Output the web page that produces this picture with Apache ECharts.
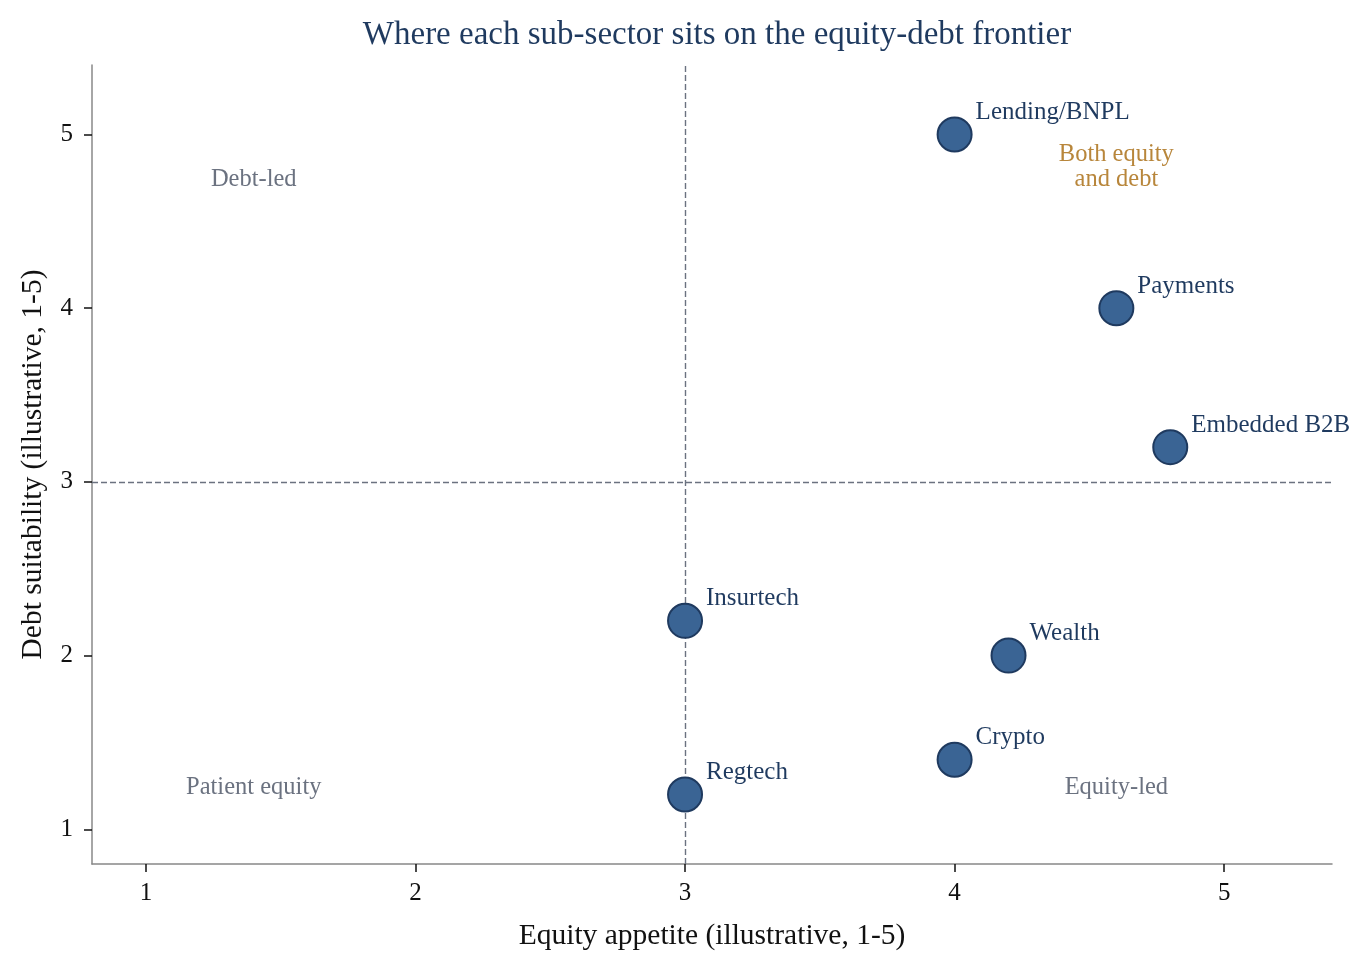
<!DOCTYPE html>
<html>
<head>
<meta charset="utf-8">
<script src="https://cdn.jsdelivr.net/npm/echarts@6/dist/echarts.min.js"></script>
<style>
  html, body { margin: 0; padding: 0; background: #fff; }
  #chartmain { width: 1370px; height: 969px; }
</style>
</head>
<body>
<div id="chartmain"></div>
<script>
// sub-sectors and their scores
var sectorNames = ['Lending/BNPL', 'Payments', 'Embedded B2B', 'Insurtech', 'Wealth', 'Crypto', 'Regtech'];
var equityScores = [4.0, 4.6, 4.8, 3.0, 4.2, 4.0, 3.0];
var debtScores = [5.0, 4.0, 3.2, 2.2, 2.0, 1.4, 1.2];

// quadrant captions
var quadrantNames = ['Debt-led', 'Both equity\nand debt', 'Patient equity', 'Equity-led'];
var quadrantX = [1.4, 4.6, 1.4, 4.6];
var quadrantY = [4.74, 4.81, 1.24, 1.24];
var quadrantColors = ['#6b7280', '#b8863b', '#6b7280', '#6b7280'];

// axis ticks and split lines
var tickValues = [1, 2, 3, 4, 5];
var splitX = 3;
var splitY = 3;

var navy = '#1f3a5f';
var fontFam = '"Liberation Serif", "DejaVu Serif", serif';

var points = [];
for (var i = 0; i < sectorNames.length; i++) {
    points.push({ name: sectorNames[i], value: [equityScores[i], debtScores[i]] });
}
var captions = [];
for (var j = 0; j < quadrantNames.length; j++) {
    captions.push({
        name: quadrantNames[j],
        value: [quadrantX[j], quadrantY[j]],
        label: { color: quadrantColors[j] }
    });
}

var axisCommon = {
    type: 'value',
    min: 0.8,
    max: 5.4,
    nameLocation: 'middle',
    nameTextStyle: { fontFamily: fontFam, fontSize: 29.5, color: '#111' },
    axisLine: { show: true, lineStyle: { color: '#888', width: 1.5 } },
    axisTick: { show: true, customValues: tickValues, length: 8, lineStyle: { color: '#111', width: 1.5 } },
    axisLabel: { customValues: tickValues, fontFamily: fontFam, fontSize: 25, color: '#111' },
    splitLine: { show: false }
};

var option = {
    backgroundColor: '#fff',
    animation: false,
    title: {
        text: 'Where each sub-sector sits on the equity-debt frontier',
        left: 712,
        textAlign: 'center',
        top: 14,
        textStyle: { fontFamily: fontFam, fontSize: 33, fontWeight: 'normal', color: navy }
    },
    grid: { left: 92, right: 38, top: 65, bottom: 105 },
    xAxis: Object.assign({}, axisCommon, {
        name: 'Equity appetite (illustrative, 1-5)',
        nameGap: 57,
        axisLabel: Object.assign({}, axisCommon.axisLabel, { margin: 17 })
    }),
    yAxis: Object.assign({}, axisCommon, {
        name: 'Debt suitability (illustrative, 1-5)',
        nameGap: 44,
        axisLabel: Object.assign({}, axisCommon.axisLabel, { margin: 19 })
    }),
    series: [
        {
            name: 'sectors',
            type: 'scatter',
            symbolSize: 34,
            z: 5,
            itemStyle: { color: '#3a6494', borderColor: navy, borderWidth: 2, opacity: 1 },
            label: {
                show: true,
                position: 'right',
                distance: 3,
                offset: [0, -22],
                formatter: '{b}',
                fontFamily: fontFam,
                fontSize: 25,
                color: navy
            },
            data: points,
            markLine: {
                silent: true,
                symbol: 'none',
                label: { show: false },
                lineStyle: { color: '#6b7280', type: [6, 3], width: 1.4 },
                data: [{ xAxis: splitX }, { yAxis: splitY }]
            }
        },
        {
            name: 'quadrants',
            type: 'scatter',
            symbolSize: 0,
            silent: true,
            itemStyle: { opacity: 1 },
            label: {
                show: true,
                position: 'inside',
                formatter: '{b}',
                fontFamily: fontFam,
                fontSize: 24.5,
                lineHeight: 25,
                align: 'center'
            },
            data: captions
        }
    ]
};

var myChart = echarts.init(document.getElementById('chartmain'));
myChart.setOption(option);
</script>
</body>
</html>
